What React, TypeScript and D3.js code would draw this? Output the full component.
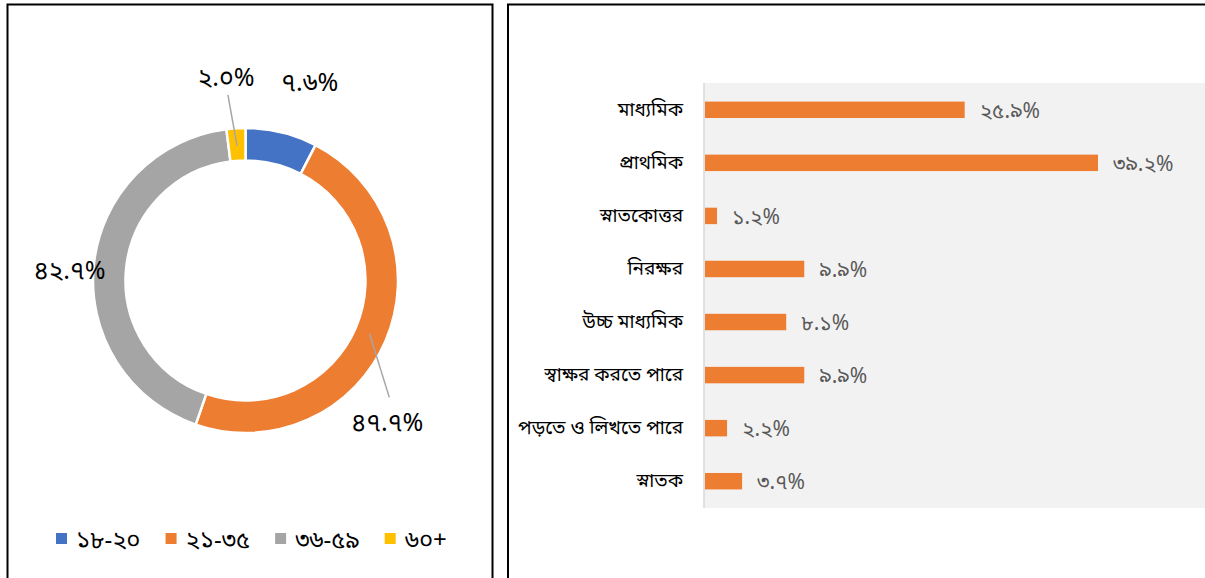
import React, { useRef, useEffect } from 'react';
import * as d3 from 'd3';

// donut: age groups
const ageGroups = ['১৮-২০', '২১-৩৫', '৩৬-৫৯', '৬০+'];
const ageValues = [7.6, 47.7, 42.7, 2.0];
const ageLabels = ['৭.৬%', '৪৭.৭%', '৪২.৭%', '২.০%'];

// bars: education level
const eduCategories = [
  'মাধ্যমিক',
  'প্রাথমিক',
  'স্নাতকোত্তর',
  'নিরক্ষর',
  'উচ্চ মাধ্যমিক',
  'স্বাক্ষর করতে পারে',
  'পড়তে ও লিখতে পারে',
  'স্নাতক',
];
const eduValues = [25.9, 39.2, 1.2, 9.9, 8.1, 9.9, 2.2, 3.7];
const eduLabels = ['২৫.৯%', '৩৯.২%', '১.২%', '৯.৯%', '৮.১%', '৯.৯%', '২.২%', '৩.৭%'];

const colors = ['#4472C4', '#ED7D31', '#A5A5A5', '#FFC000'];
const bnFont = "'Noto Sans Bengali', 'Noto Serif Bengali', Vrinda, 'Noto Sans', sans-serif";

// where Excel nudged the outside labels away from their radial spot
const labelNudge: [number, number][] = [[17, -4], [-42, 63], [23, 10], [-7, -4]];
const hasLeader = [false, true, false, true];

const App = () => {
  const ref = useRef<SVGSVGElement>(null);

  useEffect(() => {
    const svg = d3.select(ref.current);
    svg.selectAll('*').remove();

    // panel frames
    svg.append('rect').attr('x', 7.5).attr('y', 4.5).attr('width', 485).attr('height', 600)
      .attr('fill', 'white').attr('stroke', 'black').attr('stroke-width', 2);
    svg.append('rect').attr('x', 508).attr('y', 4.5).attr('width', 720).attr('height', 600)
      .attr('fill', 'white').attr('stroke', 'black').attr('stroke-width', 2);

    // ---- donut ----
    const cx = 245.5, cy = 280.5, outerR = 152.5, innerR = 120;
    const g = svg.append('g').attr('transform', `translate(${cx},${cy})`);
    const pie = d3.pie<number>().value(d => d).sort(null);
    const arcs = pie(ageValues);
    const arc = d3.arc<d3.PieArcDatum<number>>().innerRadius(innerR).outerRadius(outerR);
    const midArc = d3.arc<d3.PieArcDatum<number>>().innerRadius(135).outerRadius(135);
    const labelArc = d3.arc<d3.PieArcDatum<number>>().innerRadius(200).outerRadius(200);

    g.selectAll('path.slice').data(arcs).join('path')
      .attr('class', 'slice')
      .attr('d', arc)
      .attr('fill', (_, i) => colors[i])
      .attr('stroke', 'white').attr('stroke-width', 2.5);

    arcs.forEach((a, i) => {
      const [lx, ly] = labelArc.centroid(a);
      const x = lx + labelNudge[i][0];
      const y = ly + labelNudge[i][1];
      if (hasLeader[i]) {
        const [mx, my] = midArc.centroid(a);
        const ey = my < y ? y - 25 : y + 18;
        g.append('line').attr('x1', mx).attr('y1', my).attr('x2', x + 2).attr('y2', ey)
          .attr('stroke', '#A6A6A6').attr('stroke-width', 1.5);
      }
      g.append('text').attr('x', x).attr('y', y + 9)
        .attr('text-anchor', 'middle')
        .style('font-family', bnFont).style('font-size', '25px').attr('fill', '#000')
        .text(ageLabels[i]);
    });

    // legend
    const leg = svg.append('g').attr('transform', 'translate(56,539)');
    let lx = 0;
    ageGroups.forEach((name, i) => {
      leg.append('rect').attr('x', lx).attr('y', -6).attr('width', 11).attr('height', 11).attr('fill', colors[i]);
      const t = leg.append('text').attr('x', lx + 20).attr('y', 9)
        .style('font-family', bnFont).style('font-size', '24px').attr('fill', '#000')
        .text(name);
      const w = (t.node() as SVGTextElement).getComputedTextLength();
      lx += 20 + w + 25;
    });

    // ---- bars ----
    const plotX = 704, plotY = 83, plotW = 520, plotH = 425;
    svg.append('rect').attr('x', plotX).attr('y', plotY).attr('width', plotW).attr('height', plotH)
      .attr('fill', '#F2F2F2');

    const x = d3.scaleLinear().domain([0, 39.2]).range([plotX + 1, 1098]);
    const y = d3.scaleBand().domain(eduCategories).range([plotY, plotY + plotH]).paddingInner(0.69).paddingOuter(0.35);

    svg.append('g').selectAll('rect').data(eduValues).join('rect')
      .attr('x', x(0))
      .attr('y', (_, i) => y(eduCategories[i])!)
      .attr('width', d => x(d) - x(0))
      .attr('height', y.bandwidth())
      .attr('fill', '#ED7D31');

    svg.append('line').attr('x1', plotX).attr('x2', plotX).attr('y1', plotY).attr('y2', plotY + plotH)
      .attr('stroke', '#D9D9D9').attr('stroke-width', 1.5);

    svg.append('g').selectAll('text').data(eduValues).join('text')
      .attr('x', d => x(d) + 15)
      .attr('y', (_, i) => y(eduCategories[i])! + y.bandwidth() / 2 + 8)
      .style('font-family', bnFont).style('font-size', '21px').attr('fill', '#595959')
      .text((_, i) => eduLabels[i]);

    svg.append('g').selectAll('text').data(eduCategories).join('text')
      .attr('x', 683)
      .attr('y', d => y(d)! + y.bandwidth() / 2 + 6)
      .attr('text-anchor', 'end')
      .style('font-family', bnFont).style('font-size', '19px').attr('fill', '#000')
      .text(d => d);
  }, []);

  return (
    <svg ref={ref} width={1205} height={578}
      style={{ position: 'absolute', left: 0, top: 0, background: 'white' }} />
  );
};

export default App;
